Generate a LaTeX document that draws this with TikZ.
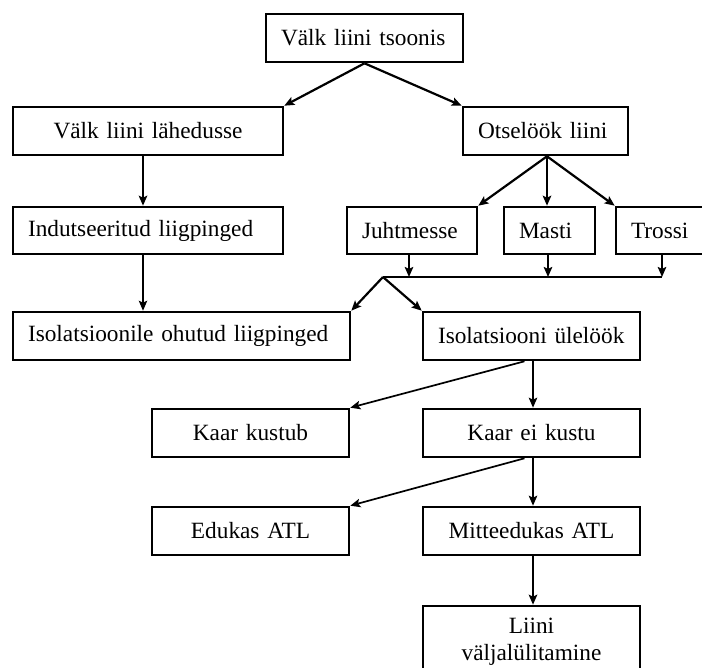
\documentclass[tikz,border=0pt]{standalone}
\usepackage{fontspec}
\setmainfont{Liberation Serif}
\usetikzlibrary{arrows.meta,calc}
\begin{document}
\begin{tikzpicture}[x=1pt,y=-1pt,
  box/.style={draw, line width=2.6pt, inner xsep=15pt, inner ysep=0pt, minimum height=48pt, font=\fontsize{23.3}{27}\selectfont},
  lbox/.style={box, align=left},
  cbox/.style={box, align=center},
  arr/.style={line width=2.2pt, -{Stealth[length=10pt,width=8.5pt,inset=2pt]}},
  midarr/.style={line width=1.7pt, -{Stealth[length=10pt,width=8.5pt,inset=2pt]}},
  thinarr/.style={line width=1.3pt, -{Stealth[length=10pt,width=8.5pt,inset=2pt]}},
  busline/.style={line width=2pt}]
\useasboundingbox (0,0) rectangle (702,668);
\clip (0,0) rectangle (702,668);

\node[lbox, text width=167pt] (top) at (364.5,38) {Välk liini tsoonis};
\node[cbox, text width=240pt] (lah) at (148,131) {Välk liini lähedusse};
\node[lbox, text width=135pt] (otse) at (545.5,131) {Otselöök liini};
\node[lbox, text width=240pt, minimum height=47pt] (ind) at (148,230.5) {Indutseeritud liigpinged};
\node[lbox, text width=100pt, minimum height=47pt] (juht) at (412,230.5) {Juhtmesse};
\node[lbox, text width=61pt, minimum height=47pt] (masti) at (549.5,230.5) {Masti};
\node[lbox, text width=90pt, minimum height=47pt] (trossi) at (676,230.5) {Trossi};
\node[lbox, text width=307pt] (ohutud) at (181.5,336) {Isolatsioonile ohutud liigpinged};
\node[lbox, text width=187pt] (ulel) at (531.5,336) {Isolatsiooni ülelöök};
\node[cbox, text width=167pt] (kk) at (250.5,433) {Kaar kustub};
\node[cbox, text width=187pt] (kek) at (531.5,433) {Kaar ei kustu};
\node[cbox, text width=167pt] (edu) at (250.5,531) {Edukas ATL};
\node[cbox, text width=187pt] (mitte) at (531.5,531) {Mitteedukas ATL};
\node[cbox, text width=187pt, minimum height=72pt] (liini) at (531.5,642) {Liini\\väljalülitamine};

% top level
\draw[arr] (top.south) -- (lah.north east);
\draw[arr] (top.south) -- (otse.north west);
\draw[arr] ([xshift=-5pt]lah.south) -- ([xshift=-5pt]ind.north);
\draw[thinarr] ([xshift=-5pt]ind.south) -- ([xshift=-5pt]ind.south |- ohutud.north);

% direct strike
\coordinate (os) at ([xshift=1.5pt]otse.south);
\draw[arr] (os) -- (juht.north east);
\draw[arr] (os) -- (os |- masti.north);
\draw[arr] (os) -- (trossi.north west);

% bus
\coordinate (b1) at (383,277);
\coordinate (b2) at (662,277);
\draw[busline] (b1) -- (b2);
\draw[arr] ([xshift=-3pt]juht.south) -- ([xshift=-3pt]juht.south |- b1);
\draw[arr] ([xshift=-1.5pt]masti.south) -- ([xshift=-1.5pt]masti.south |- b1);
\draw[arr] (b2 |- trossi.south) -- (b2);
\draw[arr] (b1) -- (ohutud.north east);
\draw[arr] (b1) -- (ulel.north west);

% lower chain
\draw[midarr] ([xshift=1.5pt]ulel.south) -- ([xshift=1.5pt]kek.north);
\draw[midarr] ([xshift=-7pt]ulel.south) -- (kk.north east);
\draw[midarr] ([xshift=1.5pt]kek.south) -- ([xshift=1.5pt]mitte.north);
\draw[midarr] ([xshift=-7pt]kek.south) -- (edu.north east);
\draw[arr] ([xshift=1.5pt]mitte.south) -- ([xshift=1.5pt]liini.north);
\end{tikzpicture}
\end{document}
